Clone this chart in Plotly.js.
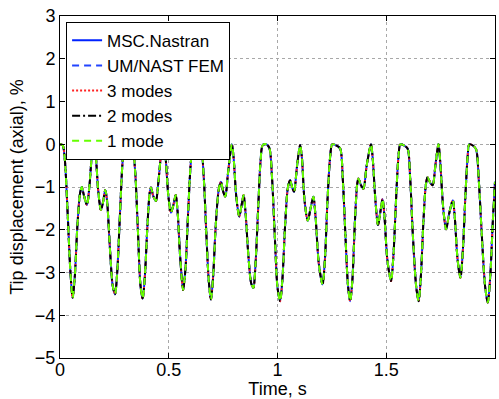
<!DOCTYPE html>
<html>
<head>
<meta charset="utf-8">
<script src="https://cdn.plot.ly/plotly-3.0.1.min.js"></script>
<style>html,body{margin:0;padding:0;background:#fff;overflow:hidden;}#chart{width:499px;height:399px;}</style>
</head>
<body>
<div id="chart"></div>
<script>
// Time (s)
const time = [0.000,0.012,0.022,0.035,0.048,0.058,0.068,0.080,0.092,0.100,0.110,0.124,0.135,0.146,0.157,0.165,0.176,0.188,0.198,0.208,0.216,0.228,0.242,0.253,0.263,0.276,0.288,0.298,0.315,0.332,0.345,0.358,0.370,0.380,0.390,0.402,0.412,0.418,0.428,0.441,0.452,0.466,0.477,0.486,0.498,0.510,0.520,0.532,0.541,0.552,0.566,0.577,0.590,0.604,0.617,0.632,0.647,0.660,0.672,0.684,0.694,0.704,0.716,0.730,0.740,0.750,0.760,0.772,0.790,0.798,0.810,0.824,0.834,0.844,0.853,0.866,0.879,0.889,0.899,0.912,0.922,0.932,0.947,0.962,0.975,0.988,1.000,1.012,1.022,1.035,1.048,1.058,1.067,1.076,1.090,1.104,1.112,1.124,1.139,1.152,1.165,1.175,1.190,1.207,1.218,1.230,1.242,1.252,1.270,1.288,1.300,1.312,1.324,1.334,1.344,1.356,1.366,1.372,1.383,1.395,1.410,1.430,1.438,1.450,1.462,1.474,1.483,1.492,1.505,1.522,1.533,1.545,1.556,1.565,1.582,1.598,1.610,1.622,1.638,1.649,1.659,1.671,1.682,1.690,1.702,1.713,1.727,1.740,1.748,1.762,1.775,1.790,1.806,1.815,1.828,1.841,1.852,1.864,1.874,1.882,1.898,1.913,1.925,1.938,1.955,1.967,1.978,1.990,2.000];
// Tip displacement (axial), % — MSC.Nastran
const nastran = [0,-0.02,-0.35,-1.6,-3.0,-3.59,-3.1,-1.9,-1.15,-1.0,-1.2,-1.42,-1.0,-0.3,0.0,-0.3,-1.1,-1.54,-1.35,-1.07,-1.3,-2.3,-3.3,-3.51,-3.0,-1.6,-0.4,-0.01,0.0,-0.05,-0.6,-2.0,-3.3,-3.61,-3.1,-1.9,-1.15,-1.01,-1.2,-1.33,-0.9,-0.2,0.0,-0.35,-1.2,-1.6,-1.45,-1.19,-1.6,-2.6,-3.41,-2.9,-1.5,-0.3,0.0,0.0,-0.05,-0.7,-2.0,-3.2,-3.63,-3.1,-1.9,-1.05,-0.88,-1.1,-1.23,-0.7,0.0,-0.3,-1.2,-1.69,-1.45,-1.19,-1.6,-2.6,-3.25,-3.36,-2.8,-1.4,-0.4,-0.02,0.0,-0.08,-0.8,-2.2,-3.35,-3.67,-3.2,-1.9,-1.0,-0.84,-1.0,-1.11,-0.5,-0.02,-0.3,-1.3,-1.79,-1.5,-1.23,-1.7,-2.8,-3.28,-2.7,-1.3,-0.3,0.0,-0.03,-0.1,-0.8,-2.1,-3.3,-3.67,-3.2,-1.8,-0.95,-0.80,-0.95,-1.04,-0.5,0.0,-0.35,-1.3,-1.89,-1.55,-1.28,-1.7,-2.7,-3.20,-2.6,-1.3,-0.3,0.0,-0.03,-0.1,-0.8,-2.1,-3.35,-3.67,-3.1,-1.8,-0.95,-0.77,-0.9,-0.96,-0.45,0.0,-0.4,-1.5,-1.99,-1.6,-1.31,-1.7,-2.7,-3.12,-2.5,-1.2,-0.3,0.0,-0.03,-0.12,-0.8,-2.0,-3.35,-3.70,-3.1,-1.8,-0.88];
// The other models overlap the Nastran curve at this scale
const umnast = nastran;
const modes3 = nastran;
const modes2 = nastran;
const mode1 = nastran;

const seriesNames = ["MSC.Nastran","UM/NAST FEM","3 modes","2 modes","1 mode"];
const seriesValues = [nastran, umnast, modes3, modes2, mode1];
const seriesColors = ["#0022ff","#2244ff","#ff2020","#000000","#66ff00"];
const seriesDash = ["solid","7px,5px","2px,2px","8px,3px,2px,3px","7px,5px"];

const xTicks = [0,0.5,1,1.5,2];
const xTickText = ["0","0.5","1","1.5","2"];
const yTicks = [-5,-4,-3,-2,-1,0,1,2,3];
const yTickText = ["\u22125","\u22124","\u22123","\u22122","\u22121","0","1","2","3"];

const traces = seriesNames.map((n,i)=>({
  x: time, y: seriesValues[i], type:'scatter', mode:'lines', name:n,
  line:{color:seriesColors[i], width:2, dash:seriesDash[i], shape:'spline', smoothing:0.8}
}));

const fam = '"Liberation Sans", Arial, sans-serif';
const layout = {
  width:499, height:399,
  margin:{l:60, r:4, t:16, b:41},
  paper_bgcolor:'#fff', plot_bgcolor:'#fff',
  font: {family:fam, size:18, color:'#000'},
  showlegend:true,
  legend:{x:0.014, y:0.983, xanchor:'left', yanchor:'top', bgcolor:'#fff', bordercolor:'#000', borderwidth:1,
          font:{family:fam, size:17, color:'#000'}, tracegroupgap:0},
  xaxis:{range:[0,2], tickvals:xTicks, ticktext:xTickText, ticks:'inside', ticklen:5, tickcolor:'#000', ticklabelstandoff:-5,
         showline:true, linecolor:'#000', linewidth:1, mirror:'ticks', showgrid:true, gridcolor:'#a8a8a8', griddash:'dot', gridwidth:1,
         zeroline:false, title:{text:'Time, s', font:{family:fam, size:18}, standoff:6}, tickfont:{size:18}},
  yaxis:{range:[-5,3], tickvals:yTicks, ticktext:yTickText, ticks:'inside', ticklen:5, tickcolor:'#000',
         showline:true, linecolor:'#000', linewidth:1, mirror:'ticks', showgrid:true, gridcolor:'#a8a8a8', griddash:'dot', gridwidth:1,
         zeroline:false, title:{text:'Tip displacement (axial), %', font:{family:fam, size:18}, standoff:6}, tickfont:{size:18}}
};
Plotly.newPlot('chart', traces, layout, {staticPlot:true, displayModeBar:false});
</script>
</body>
</html>
